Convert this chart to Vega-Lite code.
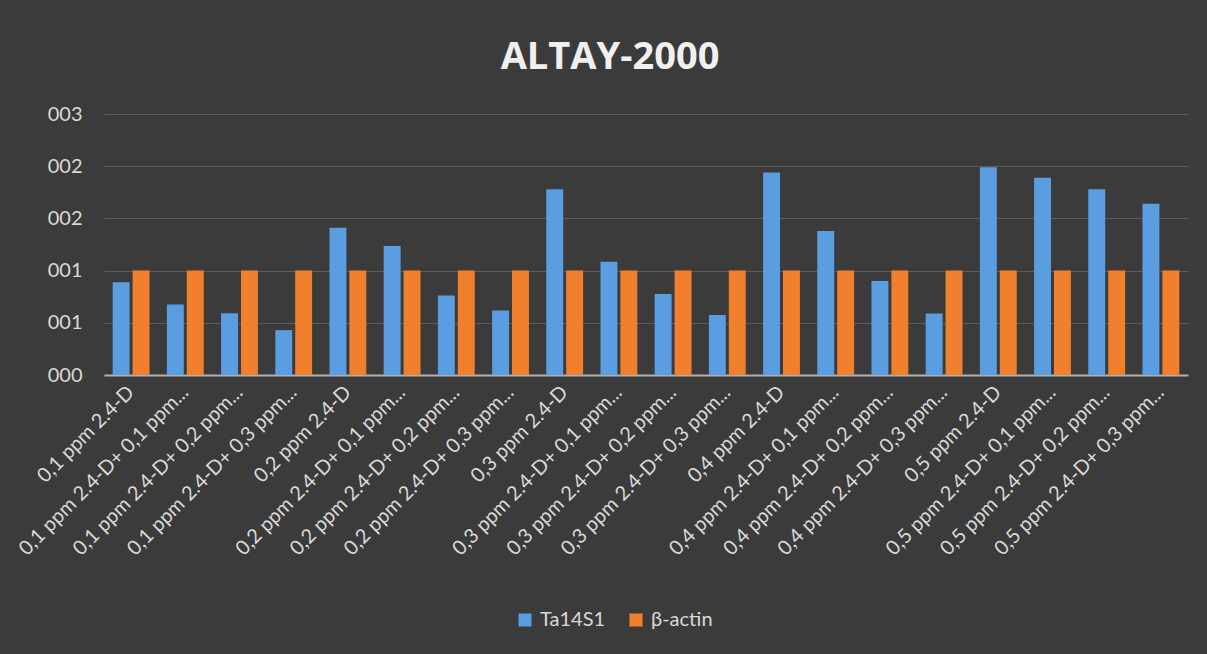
{
  "$schema": "https://vega.github.io/schema/vega-lite/v6.json",
  "width": 1084,
  "height": 261,
  "autosize": {"type": "none"},
  "padding": {"left": 104, "top": 114, "right": 19, "bottom": 279},
  "background": "#3b3b3b",
  "title": {
    "text": "ALTAY-2000",
    "font": "Open Sans",
    "fontWeight": "bold",
    "fontSize": 38,
    "color": "#f0f0f0",
    "anchor": "middle",
    "dx": -36,
    "offset": 27
  },
  "data": {
    "values": [
      {"cond": "0,1 ppm 2.4-D", "series": "Ta14S1", "value": 0.888},
      {"cond": "0,1 ppm 2.4-D", "series": "β-actin", "value": 1},
      {"cond": "0,1 ppm 2.4-D+ 0,1 ppm...", "series": "Ta14S1", "value": 0.676},
      {"cond": "0,1 ppm 2.4-D+ 0,1 ppm...", "series": "β-actin", "value": 1},
      {"cond": "0,1 ppm 2.4-D+ 0,2 ppm...", "series": "Ta14S1", "value": 0.592},
      {"cond": "0,1 ppm 2.4-D+ 0,2 ppm...", "series": "β-actin", "value": 1},
      {"cond": "0,1 ppm 2.4-D+ 0,3 ppm...", "series": "Ta14S1", "value": 0.43},
      {"cond": "0,1 ppm 2.4-D+ 0,3 ppm...", "series": "β-actin", "value": 1},
      {"cond": "0,2 ppm 2.4-D", "series": "Ta14S1", "value": 1.41},
      {"cond": "0,2 ppm 2.4-D", "series": "β-actin", "value": 1},
      {"cond": "0,2 ppm 2.4-D+ 0,1 ppm...", "series": "Ta14S1", "value": 1.235},
      {"cond": "0,2 ppm 2.4-D+ 0,1 ppm...", "series": "β-actin", "value": 1},
      {"cond": "0,2 ppm 2.4-D+ 0,2 ppm...", "series": "Ta14S1", "value": 0.762},
      {"cond": "0,2 ppm 2.4-D+ 0,2 ppm...", "series": "β-actin", "value": 1},
      {"cond": "0,2 ppm 2.4-D+ 0,3 ppm...", "series": "Ta14S1", "value": 0.618},
      {"cond": "0,2 ppm 2.4-D+ 0,3 ppm...", "series": "β-actin", "value": 1},
      {"cond": "0,3 ppm 2.4-D", "series": "Ta14S1", "value": 1.78},
      {"cond": "0,3 ppm 2.4-D", "series": "β-actin", "value": 1},
      {"cond": "0,3 ppm 2.4-D+ 0,1 ppm...", "series": "Ta14S1", "value": 1.084},
      {"cond": "0,3 ppm 2.4-D+ 0,1 ppm...", "series": "β-actin", "value": 1},
      {"cond": "0,3 ppm 2.4-D+ 0,2 ppm...", "series": "Ta14S1", "value": 0.775},
      {"cond": "0,3 ppm 2.4-D+ 0,2 ppm...", "series": "β-actin", "value": 1},
      {"cond": "0,3 ppm 2.4-D+ 0,3 ppm...", "series": "Ta14S1", "value": 0.575},
      {"cond": "0,3 ppm 2.4-D+ 0,3 ppm...", "series": "β-actin", "value": 1},
      {"cond": "0,4 ppm 2.4-D", "series": "Ta14S1", "value": 1.94},
      {"cond": "0,4 ppm 2.4-D", "series": "β-actin", "value": 1},
      {"cond": "0,4 ppm 2.4-D+ 0,1 ppm...", "series": "Ta14S1", "value": 1.38},
      {"cond": "0,4 ppm 2.4-D+ 0,1 ppm...", "series": "β-actin", "value": 1},
      {"cond": "0,4 ppm 2.4-D+ 0,2 ppm...", "series": "Ta14S1", "value": 0.9},
      {"cond": "0,4 ppm 2.4-D+ 0,2 ppm...", "series": "β-actin", "value": 1},
      {"cond": "0,4 ppm 2.4-D+ 0,3 ppm...", "series": "Ta14S1", "value": 0.589},
      {"cond": "0,4 ppm 2.4-D+ 0,3 ppm...", "series": "β-actin", "value": 1},
      {"cond": "0,5 ppm 2.4-D", "series": "Ta14S1", "value": 1.99},
      {"cond": "0,5 ppm 2.4-D", "series": "β-actin", "value": 1},
      {"cond": "0,5 ppm 2.4-D+ 0,1 ppm...", "series": "Ta14S1", "value": 1.89},
      {"cond": "0,5 ppm 2.4-D+ 0,1 ppm...", "series": "β-actin", "value": 1},
      {"cond": "0,5 ppm 2.4-D+ 0,2 ppm...", "series": "Ta14S1", "value": 1.78},
      {"cond": "0,5 ppm 2.4-D+ 0,2 ppm...", "series": "β-actin", "value": 1},
      {"cond": "0,5 ppm 2.4-D+ 0,3 ppm...", "series": "Ta14S1", "value": 1.64},
      {"cond": "0,5 ppm 2.4-D+ 0,3 ppm...", "series": "β-actin", "value": 1}
    ]
  },
  "mark": {"type": "bar"},
  "encoding": {
    "x": {
      "field": "cond",
      "type": "nominal",
      "sort": null,
      "title": null,
      "scale": {"paddingInner": 0.32, "paddingOuter": 0.16},
      "axis": {
        "labelAngle": -45,
        "labelAlign": "right",
        "labelBaseline": "middle",
        "labelFont": "Lato",
        "labelFontSize": 20,
        "labelColor": "#d9d9d9",
        "labelLimit": 0,
        "labelPadding": 14,
        "ticks": false,
        "domainColor": "#b0b0b0",
        "domainWidth": 2,
        "grid": false
      }
    },
    "xOffset": {
      "field": "series",
      "type": "nominal",
      "sort": ["Ta14S1", "β-actin"],
      "scale": {"paddingInner": 0.15, "paddingOuter": 0}
    },
    "y": {
      "field": "value",
      "type": "quantitative",
      "title": null,
      "scale": {"domain": [0, 2.5], "nice": false},
      "axis": {
        "values": [0, 0.5, 1, 1.5, 2, 2.5],
        "format": "03.0f",
        "labelFont": "Lato",
        "labelFontSize": 20,
        "labelColor": "#d9d9d9",
        "labelPadding": 22,
        "ticks": false,
        "domain": false,
        "grid": true,
        "gridColor": "#5c5c5c",
        "gridWidth": 1
      }
    },
    "color": {
      "field": "series",
      "type": "nominal",
      "sort": ["Ta14S1", "β-actin"],
      "scale": {"domain": ["Ta14S1", "β-actin"], "range": ["#5a9de0", "#f07f2e"]},
      "legend": {
        "title": null,
        "orient": "none",
        "legendX": 411,
        "legendY": 496,
        "direction": "horizontal",
        "symbolType": "square",
        "symbolSize": 169,
        "symbolStrokeWidth": 0,
        "labelFont": "Lato",
        "labelFontSize": 20,
        "labelColor": "#d9d9d9",
        "labelOffset": 5,
        "columnPadding": 20
      }
    }
  },
  "config": {
    "view": {"stroke": null}
  }
}
